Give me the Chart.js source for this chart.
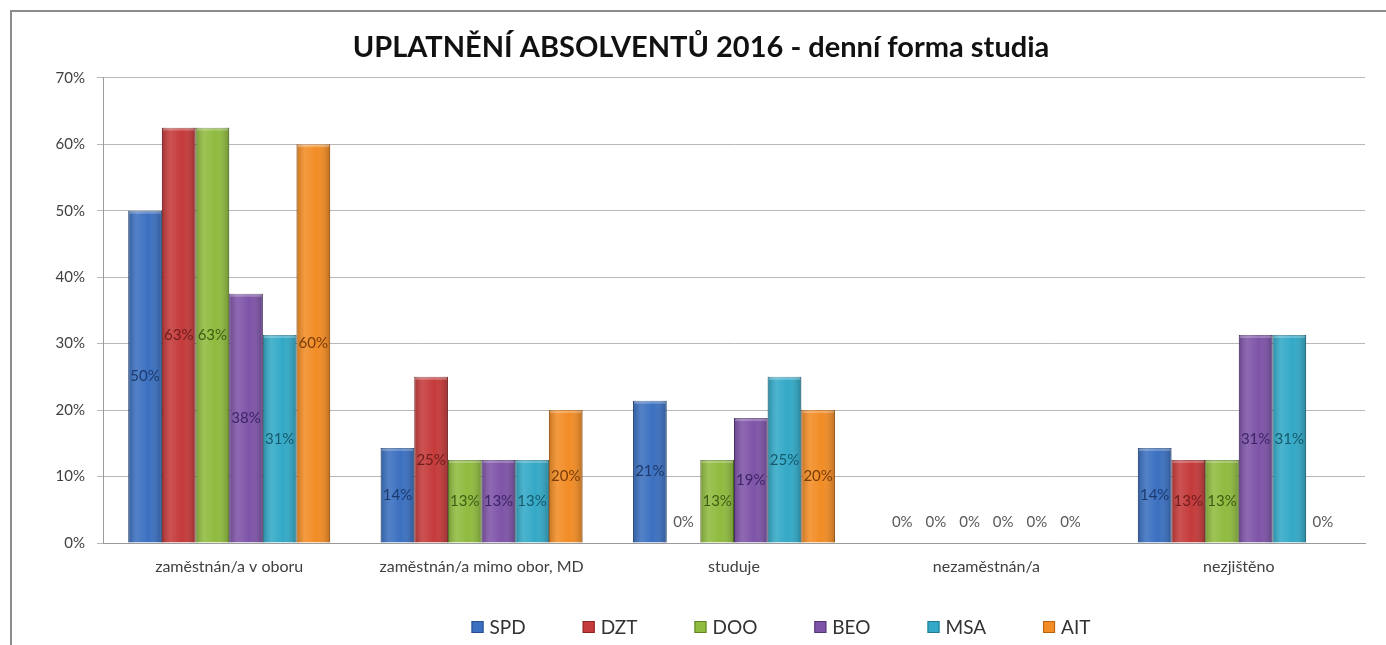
<!DOCTYPE html>
<html>
<head>
<meta charset="utf-8">
<script src="https://cdn.jsdelivr.net/npm/chart.js@4/dist/chart.umd.min.js"></script>
<style>
    html, body { margin: 0; padding: 0; background: #fff; overflow: hidden; }
    #wrap { width: 1386px; height: 645px; }
</style>
</head>
<body>
<div id="wrap"><canvas id="gradChart" width="1386" height="645"></canvas></div>
<script>
// data (percent)
const categories = ['zaměstnán/a v oboru', 'zaměstnán/a mimo obor, MD', 'studuje', 'nezaměstnán/a', 'nezjištěno'];
const seriesNames = ['SPD', 'DZT', 'DOO', 'BEO', 'MSA', 'AIT'];
const spd = [50, 14.3, 21.4, 0, 14.3];
const dzt = [62.5, 25, 0, 0, 12.5];
const doo = [62.5, 12.5, 12.5, 0, 12.5];
const beo = [37.5, 12.5, 18.8, 0, 31.3];
const msa = [31.3, 12.5, 25, 0, 31.3];
const ait = [60, 20, 20, 0, 0];
const yTicks = [0, 10, 20, 30, 40, 50, 60, 70];

const fills = ['#3b70c0', '#c53a3a', '#8fbb3f', '#7e54a8', '#33a9c7', '#f28c25'];
const edges = ['#264d8c', '#8e2323', '#5f8224', '#553675', '#217a91', '#b8620f'];
const labelColors = ['#1c3a6e', '#6e1c1c', '#3f5c13', '#3d2466', '#155a6b', '#7a3d06'];
const FONT = 'Lato, "Open Sans", sans-serif';

const allSeries = [spd, dzt, doo, beo, msa, ait];

// outer frame of the chart object
const framePlugin = {
    id: 'frame',
    beforeDraw(chart) {
        const ctx = chart.ctx;
        ctx.save();
        ctx.strokeStyle = '#8c8c8c';
        ctx.lineWidth = 2;
        ctx.strokeRect(11, 11, chart.width + 20, chart.height + 20);
        ctx.restore();
    }
};

// glossy shading + value labels on each bar
const barLabels = {
    id: 'barLabels',
    afterDatasetsDraw(chart) {
        const ctx = chart.ctx;
        ctx.save();
        chart.data.datasets.forEach(function(ds, i) {
            const meta = chart.getDatasetMeta(i);
            meta.data.forEach(function(bar, j) {
                const v = ds.data[j];
                const left = bar.x - bar.width / 2;
                if (v > 0) {
                    const g = ctx.createLinearGradient(left, 0, left + bar.width, 0);
                    g.addColorStop(0, 'rgba(0,0,0,0.18)');
                    g.addColorStop(0.25, 'rgba(255,255,255,0.12)');
                    g.addColorStop(0.6, 'rgba(255,255,255,0)');
                    g.addColorStop(1, 'rgba(0,0,0,0.22)');
                    ctx.fillStyle = g;
                    ctx.fillRect(left, bar.y, bar.width, bar.base - bar.y);
                    ctx.fillStyle = 'rgba(255,255,255,0.25)';
                    ctx.fillRect(left + 1, bar.y, bar.width - 2, 3);
                }
                ctx.font = '15px ' + FONT;
                ctx.textAlign = 'center';
                ctx.textBaseline = 'middle';
                const txt = Math.round(v) + '%';
                if (v > 0) {
                    ctx.fillStyle = labelColors[i];
                    ctx.fillText(txt, bar.x, (bar.y + bar.base) / 2);
                } else {
                    ctx.fillStyle = '#595959';
                    ctx.fillText(txt, bar.x, bar.base - 21);
                }
            });
        });
        ctx.restore();
    }
};

// legend drawn along the bottom
const bottomLegend = {
    id: 'bottomLegend',
    afterDraw(chart) {
        const ctx = chart.ctx;
        const box = 12, gap = 6, spacing = 57, cy = 627, cx = 781;
        ctx.save();
        ctx.font = '19px ' + FONT;
        ctx.textBaseline = 'middle';
        ctx.textAlign = 'left';
        const widths = chart.data.datasets.map(function(ds) {
            return box + gap + ctx.measureText(ds.label).width;
        });
        const total = widths.reduce(function(a, b) { return a + b; }, 0) + spacing * (widths.length - 1);
        let x = cx - total / 2;
        chart.data.datasets.forEach(function(ds, i) {
            ctx.fillStyle = fills[i];
            ctx.fillRect(x, cy - box / 2, box, box);
            ctx.strokeStyle = edges[i];
            ctx.lineWidth = 1;
            ctx.strokeRect(x + 0.5, cy - box / 2 + 0.5, box - 1, box - 1);
            ctx.fillStyle = '#333333';
            ctx.fillText(ds.label, x + box + gap, cy + 1);
            x += widths[i] + spacing;
        });
        ctx.restore();
    }
};

const ctx = document.getElementById('gradChart');

const gradChart = new Chart(ctx, {
    type: 'bar',
    data: {
        labels: categories,
        datasets: seriesNames.map(function(name, i) {
            return {
                label: name,
                data: allSeries[i],
                backgroundColor: fills[i],
                borderColor: edges[i],
                borderWidth: 1,
                categoryPercentage: 0.8,
                barPercentage: 1.0
            };
        })
    },
    options: {
        responsive: false,
        animation: false,
        layout: {
            padding: { left: 37, right: 21, top: 10, bottom: 62 }
        },
        plugins: {
            legend: { display: false },
            tooltip: { enabled: false },
            title: {
                display: true,
                text: 'UPLATNĚNÍ ABSOLVENTŮ 2016 - denní forma studia',
                color: '#111111',
                font: { family: FONT, size: 29, weight: 'bold' },
                padding: { top: 20, bottom: 13 }
            }
        },
        scales: {
            y: {
                min: 0,
                max: 70,
                afterBuildTicks: function(scale) {
                    scale.ticks = yTicks.map(function(v) { return { value: v }; });
                },
                afterFit: function(scale) { scale.width = 66; },
                ticks: {
                    color: '#404040',
                    padding: 12,
                    font: { family: FONT, size: 15 },
                    callback: function(v) { return v + '%'; }
                },
                grid: {
                    color: '#b8b8b8',
                    tickLength: 6
                },
                border: { color: '#9a9a9a' }
            },
            x: {
                afterFit: function(scale) { scale.height = 40; },
                ticks: {
                    color: '#404040',
                    padding: 14,
                    font: { family: FONT, size: 16 }
                },
                grid: { display: false, drawTicks: false },
                border: { color: '#9a9a9a' }
            }
        }
    },
    plugins: [framePlugin, barLabels, bottomLegend]
});
</script>
</body>
</html>
